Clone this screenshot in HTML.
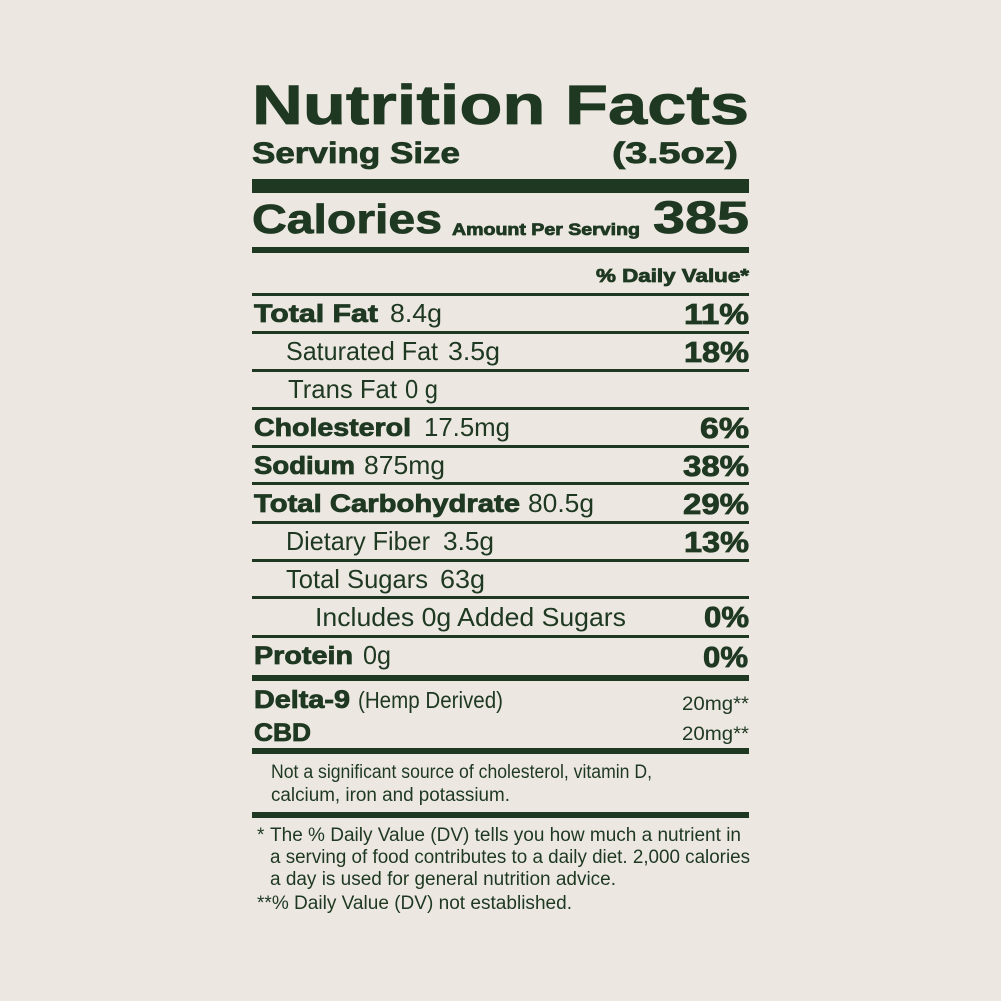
<!DOCTYPE html>
<html><head><meta charset="utf-8"><style>
html,body{margin:0;padding:0;background:#ece8e1;}
svg{display:block}
text{font-family:"Liberation Sans",Arial,sans-serif;fill:#1e3822}
.b{font-weight:bold;stroke:#1e3822;stroke-width:0.8}
</style></head><body>
<svg width="1001" height="1001" viewBox="0 0 1001 1001" xmlns="http://www.w3.org/2000/svg">
<rect width="1001" height="1001" fill="#ece8e1"/>
<g fill="#1e3822">
<rect x="252" y="179" width="497" height="14"/>
<rect x="252" y="247" width="497" height="6"/>
<rect x="252" y="293" width="497" height="3"/>
<rect x="252" y="331" width="497" height="3"/>
<rect x="252" y="369" width="497" height="3"/>
<rect x="252" y="407" width="497" height="3"/>
<rect x="252" y="445" width="497" height="3"/>
<rect x="252" y="482" width="497" height="3"/>
<rect x="252" y="521" width="497" height="3"/>
<rect x="252" y="559" width="497" height="3"/>
<rect x="252" y="596" width="497" height="3"/>
<rect x="252" y="635" width="497" height="3"/>
<rect x="252" y="675" width="497" height="6"/>
<rect x="252" y="748" width="497" height="6"/>
<rect x="252" y="812" width="497" height="6"/>
</g>
<text class="b" x="252" y="124" font-size="56" stroke-width="1.6" textLength="497" lengthAdjust="spacingAndGlyphs">Nutrition Facts</text>
<text class="b" x="252" y="163" font-size="30" textLength="208" lengthAdjust="spacingAndGlyphs">Serving Size</text>
<text class="b" x="612" y="163" font-size="30" textLength="126" lengthAdjust="spacingAndGlyphs">(3.5oz)</text>
<text class="b" x="252" y="233" font-size="41" stroke-width="1.2" textLength="190" lengthAdjust="spacingAndGlyphs">Calories</text>
<text class="b" x="452" y="235" font-size="17" stroke-width="0.4" textLength="188" lengthAdjust="spacingAndGlyphs">Amount Per Serving</text>
<text class="b" x="653" y="233" font-size="45" stroke-width="1.2" textLength="96" lengthAdjust="spacingAndGlyphs">385</text>
<text class="b" x="596" y="282" font-size="18" stroke-width="0.4" textLength="153" lengthAdjust="spacingAndGlyphs">% Daily Value*</text>

<text class="b" x="254" y="322" font-size="25" textLength="124" lengthAdjust="spacingAndGlyphs">Total Fat</text>
<text x="390" y="322" font-size="26" textLength="52" lengthAdjust="spacingAndGlyphs">8.4g</text>
<text class="b" x="684" y="324" font-size="29" textLength="65" lengthAdjust="spacingAndGlyphs">11%</text>

<text x="286" y="360" font-size="26" textLength="152" lengthAdjust="spacingAndGlyphs">Saturated Fat</text>
<text x="448" y="360" font-size="26" textLength="52" lengthAdjust="spacingAndGlyphs">3.5g</text>
<text class="b" x="684" y="362" font-size="29" textLength="65" lengthAdjust="spacingAndGlyphs">18%</text>

<text x="288" y="398" font-size="26" textLength="109" lengthAdjust="spacingAndGlyphs">Trans Fat</text>
<text x="405" y="398" font-size="26" textLength="33" lengthAdjust="spacingAndGlyphs">0 g</text>

<text class="b" x="254" y="436" font-size="25" textLength="157" lengthAdjust="spacingAndGlyphs">Cholesterol</text>
<text x="424" y="436" font-size="26" textLength="86" lengthAdjust="spacingAndGlyphs">17.5mg</text>
<text class="b" x="700" y="438" font-size="29" textLength="49" lengthAdjust="spacingAndGlyphs">6%</text>

<text class="b" x="254" y="474" font-size="25" textLength="101" lengthAdjust="spacingAndGlyphs">Sodium</text>
<text x="364" y="474" font-size="26" textLength="81" lengthAdjust="spacingAndGlyphs">875mg</text>
<text class="b" x="683" y="476" font-size="29" textLength="66" lengthAdjust="spacingAndGlyphs">38%</text>

<text class="b" x="254" y="512" font-size="25" textLength="266" lengthAdjust="spacingAndGlyphs">Total Carbohydrate</text>
<text x="528" y="512" font-size="26" textLength="66" lengthAdjust="spacingAndGlyphs">80.5g</text>
<text class="b" x="683" y="514" font-size="29" textLength="66" lengthAdjust="spacingAndGlyphs">29%</text>

<text x="286" y="550" font-size="26" textLength="144" lengthAdjust="spacingAndGlyphs">Dietary Fiber</text>
<text x="443" y="550" font-size="26" textLength="51" lengthAdjust="spacingAndGlyphs">3.5g</text>
<text class="b" x="684" y="552" font-size="29" textLength="65" lengthAdjust="spacingAndGlyphs">13%</text>

<text x="286" y="588" font-size="26" textLength="142" lengthAdjust="spacingAndGlyphs">Total Sugars</text>
<text x="440" y="588" font-size="26" textLength="45" lengthAdjust="spacingAndGlyphs">63g</text>

<text x="315" y="626" font-size="26" textLength="311" lengthAdjust="spacingAndGlyphs">Includes 0g Added Sugars</text>
<text class="b" x="704" y="627" font-size="29" textLength="45" lengthAdjust="spacingAndGlyphs">0%</text>

<text class="b" x="254" y="664" font-size="25" textLength="99" lengthAdjust="spacingAndGlyphs">Protein</text>
<text x="363" y="664" font-size="26" textLength="28" lengthAdjust="spacingAndGlyphs">0g</text>
<text class="b" x="703" y="667" font-size="29" textLength="45" lengthAdjust="spacingAndGlyphs">0%</text>

<text class="b" x="254" y="708" font-size="25" textLength="96" lengthAdjust="spacingAndGlyphs">Delta-9</text>
<text x="358" y="708" font-size="23" textLength="145" lengthAdjust="spacingAndGlyphs">(Hemp Derived)</text>
<text x="682" y="710" font-size="19" textLength="67" lengthAdjust="spacingAndGlyphs">20mg**</text>
<text class="b" x="254" y="741" font-size="25" textLength="57" lengthAdjust="spacingAndGlyphs">CBD</text>
<text x="682" y="740" font-size="19" textLength="67" lengthAdjust="spacingAndGlyphs">20mg**</text>

<text x="271" y="778" font-size="19" textLength="381" lengthAdjust="spacingAndGlyphs">Not a significant source of cholesterol, vitamin D,</text>
<text x="271" y="801" font-size="19" textLength="239" lengthAdjust="spacingAndGlyphs">calcium, iron and potassium.</text>

<text x="257" y="841" font-size="19">*</text>
<text x="270" y="841" font-size="19" textLength="471" lengthAdjust="spacingAndGlyphs">The % Daily Value (DV) tells you how much a nutrient in</text>
<text x="270" y="863" font-size="19" textLength="480" lengthAdjust="spacingAndGlyphs">a serving of food contributes to a daily diet. 2,000 calories</text>
<text x="270" y="885" font-size="19" textLength="346" lengthAdjust="spacingAndGlyphs">a day is used for general nutrition advice.</text>
<text x="257" y="909" font-size="19" textLength="315" lengthAdjust="spacingAndGlyphs">**% Daily Value (DV) not established.</text>
</svg>
</body></html>
